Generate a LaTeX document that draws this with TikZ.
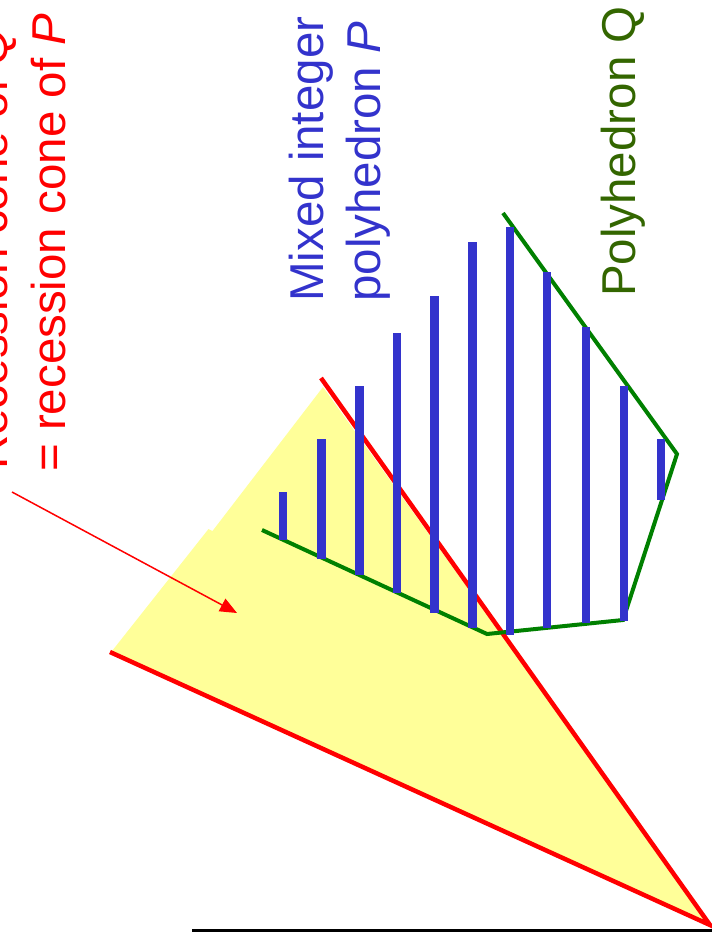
\documentclass[tikz,border=0pt]{standalone}
\usepackage{fontspec}
\setmainfont{Liberation Sans}
\usetikzlibrary{arrows.meta}
\definecolor{conered}{HTML}{FF0000}
\definecolor{coneyellow}{HTML}{FFFF99}
\definecolor{polyblue}{HTML}{3333CC}
\definecolor{qgreen}{HTML}{008000}
\definecolor{qtext}{HTML}{336600}
\tikzset{
  lbl/.style={rotate=90, anchor=base west, inner sep=0pt, font=\fontsize{47.5}{57}\selectfont},
  rayline/.style={draw=conered, line width=4.5pt},
  qline/.style={draw=qgreen, line width=4pt, line join=miter},
  bar/.style={draw=polyblue, line width=8.5pt, line cap=butt},
}
\begin{document}
\begin{tikzpicture}[x=1pt, y=-1pt]
\useasboundingbox (0,0) rectangle (712,946);
% cone
\coordinate (apex) at (710,925);
\coordinate (lray) at (110,652);
\coordinate (rray) at (321,378);
\fill[coneyellow] (112,651) -- (208.5,529) -- (212.5,531) -- (323,387) -- (apex) -- cycle;
\draw[rayline] (lray) -- (apex) -- (rray);
% axis line
\coordinate (axl) at (192,930);
\coordinate (axr) at (712,930);
\draw[line width=3pt] (axl) -- (axr);
% polyhedron Q
\coordinate (q1) at (262,530);
\coordinate (q2) at (487,634);
\coordinate (q3) at (623,620);
\coordinate (q4) at (677,454);
\coordinate (q5) at (503,213);
\draw[qline] (q1) -- (q2) -- (q3) -- (q4) -- (q5);
% mixed integer bars
\foreach \x/\t/\b [count=\i] in {283/492/540, 321.7/439/559, 359.5/386/575, 397/333/593, 434.5/296/613, 472.3/242/628, 510/227/635, 547/272/628, 586/327/623, 624/386/621, 661/439/500}{
  \coordinate (bt\i) at (\x,\t);
  \coordinate (bb\i) at (\x,\b);
  \draw[bar] (bt\i) -- (bb\i);
}
% labels
\node[lbl, text=conered] (rc1) at (7,470) {Recession cone of \textit{Q}};
\node[lbl, text=conered] (rc2) at (65,472) {= recession cone of \textit{P}};
\node[lbl, text=polyblue] (mi1) at (323,302) {Mixed integer};
\node[lbl, text=polyblue] (mi2) at (380,302) {polyhedron \textit{P}};
\node[lbl, text=qtext] (pq) at (635,297) {Polyhedron Q};
% arrow
\coordinate (arrs) at (12,492);
\coordinate (arrt) at (237,613);
\draw[conered, line width=1.5pt, -{Triangle[length=17pt, width=14pt]}] (arrs) -- (arrt);
\end{tikzpicture}
\end{document}
